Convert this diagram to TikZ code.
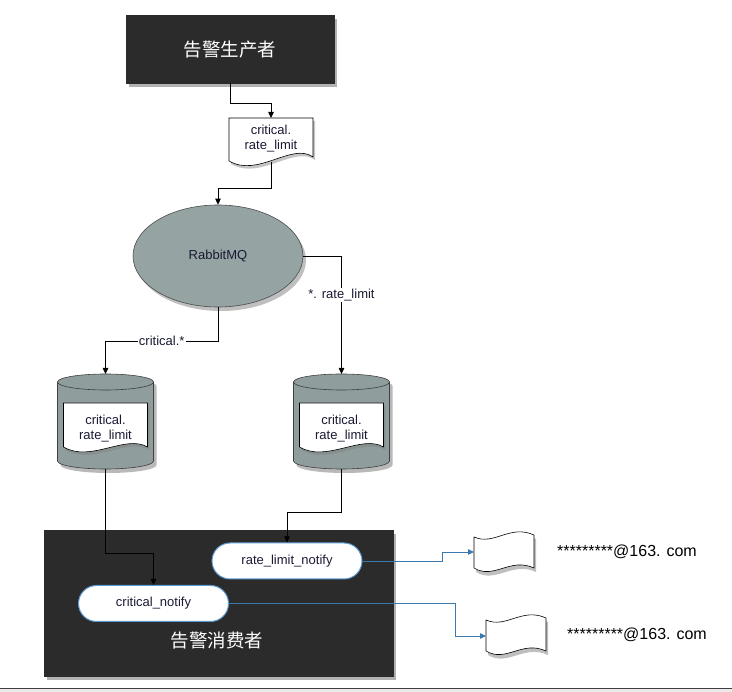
\documentclass[tikz,border=0pt]{standalone}
\usepackage{fontspec}
\setmainfont{Liberation Sans}
\newfontfamily\cjk{Noto Sans CJK SC}
\usetikzlibrary{shadows,arrows.meta,shapes.geometric}
\definecolor{boxdark}{HTML}{2B2B2B}
\definecolor{rmqfill}{HTML}{95A3A3}
\definecolor{cylfill}{HTML}{8F9D9D}
\definecolor{blueline}{HTML}{3A78AE}
\definecolor{pillborder}{HTML}{5B9BD5}
\definecolor{txtdark}{HTML}{1A1A33}
\newcommand{\mycyl}[2]{%
  \path[cylstyle] (#1-48,382) -- (#1-48,461)
     arc[start angle=180,end angle=0,x radius=48,y radius=8]
     -- (#1+48,382)
     arc[start angle=0,end angle=-180,x radius=48,y radius=8] -- cycle;
  \draw[cylline] (#1-48,382) arc[start angle=180,end angle=0,x radius=48,y radius=8];
  \path[docstyle] (#1-42,403) -- (#1+42,403) -- (#1+42,447)
     .. controls (#1+20,434) and (#1-15,463) .. (#1-42,447) -- cycle;
  \node[lbl] (#2txt) at (#1,429) {critical.\\rate\_limit};
  \coordinate (#2top) at (#1,374);
  \coordinate (#2bot) at (#1,469);
}
\newcommand{\myflag}[2]{%
  \path[flagstyle] (#1,#2+5) .. controls (#1+20,#2+14) and (#1+36,#2-8) .. (#1+60,#2+3)
     -- (#1+60,#2+36) .. controls (#1+36,#2+25) and (#1+20,#2+48) .. (#1,#2+36) -- cycle;
}
\begin{document}
\begin{tikzpicture}[x=1pt,y=-1pt,
  darkbox/.style={fill=boxdark, draw=boxdark, inner sep=0pt,
     drop shadow={shadow xshift=3pt,shadow yshift=-4pt,opacity=0.6}},
  cjktext/.style={text=white, font=\cjk\fontsize{18.5}{20}\selectfont},
  lbl/.style={align=center, text=txtdark, font=\fontsize{13}{15}\selectfont, inner sep=1pt},
  conn/.style={draw=black, line width=0.8pt, -{Triangle[length=6pt,width=5.5pt]}},
  blueconn/.style={draw=blueline, line width=0.8pt, -{Triangle[length=6pt,width=5.5pt]}},
  docstyle/.style={fill=white, draw=black, line width=0.6pt,
     drop shadow={shadow xshift=2pt,shadow yshift=-3pt,opacity=0.45}},
  flagstyle/.style={fill=white, draw=black, line width=0.6pt,
     drop shadow={shadow xshift=2pt,shadow yshift=-4pt,opacity=0.5}},
  cylstyle/.style={fill=cylfill, draw=black!75, line width=0.6pt,
     drop shadow={shadow xshift=3pt,shadow yshift=-4pt,opacity=0.55}},
  cylline/.style={draw=black!75, line width=0.6pt},
  pill/.style={fill=white, draw=pillborder, line width=1pt, rounded corners=18pt,
     minimum width=150pt, minimum height=36pt, inner sep=0pt, text=txtdark,
     font=\fontsize{13}{15}\selectfont},
  email/.style={font=\fontsize{16}{18}\selectfont, inner sep=0pt}
]
\useasboundingbox (0,0) rectangle (732,692);
\fill[white] (0,0) rectangle (732,692);

% producer
\node[darkbox, minimum width=208pt, minimum height=68pt] (prod) at (230,49) {};
\node[cjktext] (prodtxt) at (230,50) {告警生产者};

% message document
\path[docstyle] (229,118) -- (313,118) -- (313,157)
   .. controls (292,142) and (258,178) .. (229,161) -- cycle;
\node[lbl] (doc1) at (271,139) {critical.\\rate\_limit};
\coordinate (d1top) at (271,118);
\coordinate (d1bot) at (271,162);

% RabbitMQ
\node[ellipse, fill=rmqfill, draw=black!70, line width=0.6pt, inner sep=0pt,
      minimum width=170pt, minimum height=102pt, text=txtdark, font=\fontsize{13}{15}\selectfont,
      drop shadow={shadow xshift=3pt,shadow yshift=-4pt,opacity=0.5}] (rmq) at (218,256) {RabbitMQ};

% queues
\mycyl{105.5}{cA}
\mycyl{341.5}{cB}

% consumer
\node[darkbox, minimum width=349pt, minimum height=146pt] (cons) at (218.5,603) {};
\node[cjktext] (constxt) at (217,641) {告警消费者};
\node[pill] (rln) at (287,561) {rate\_limit\_notify};
\node[pill] (crn) at (153.5,603.5) {critical\_notify};

% mail flags
\myflag{474}{532}
\coordinate (f1w) at (474,552);
\myflag{486}{615}
\coordinate (f2w) at (486,636);
\node[email, anchor=west] (m1) at (557,552) {*********@163. com};
\node[email, anchor=west] (m2) at (567,635) {*********@163. com};

% connectors
\draw[conn] (prod.south) -- ++(0,20) -| (d1top);
\draw[conn] (d1bot) -- ++(0,26) -| (rmq.north);
\draw[conn] (rmq.east) -| node[pos=0.665, fill=white, lbl] {*. rate\_limit} (cBtop);
\draw[conn] (rmq.south) -- ++(0,34) -| node[pos=0.25, fill=white, lbl] {critical.*} (cAtop);
\draw[conn] (cAbot) -- ++(0,84) -| (crn.north);
\draw[conn] (cBbot) -- ++(0,43) -| (rln.north);
\draw[blueconn] (rln.east) -- ++(80,0) |- (f1w);
\draw[blueconn] (crn.east) -- ++(226,0) |- (f2w);

% bottom strip
\fill[black!8] (0,689) rectangle (732,692);
\draw[black!75, line width=1pt] (0,689) -- (732,689);
\end{tikzpicture}
\end{document}
